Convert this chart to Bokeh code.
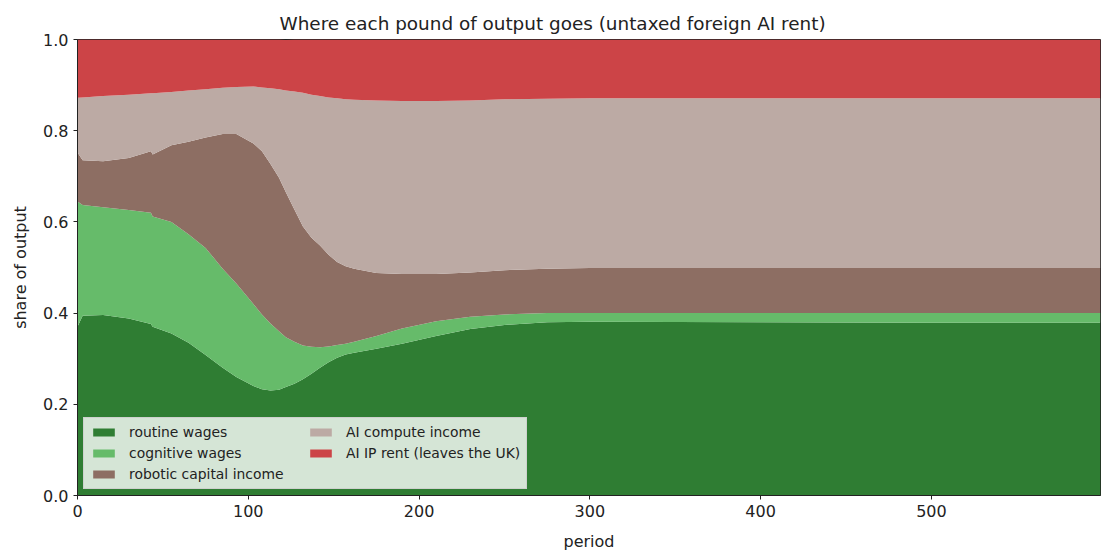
from bokeh.plotting import figure
from bokeh.models import ColumnDataSource, Legend, LegendItem, FixedTicker, NumeralTickFormatter, Range1d
from bokeh.embed import file_html
from bokeh.resources import INLINE

period = [0, 3, 15, 30, 43, 44, 55, 65, 75, 85, 93, 103, 108, 113, 118, 122, 127, 132,
          137, 142, 147, 152, 157, 162, 175, 190, 210, 230, 250, 275, 300, 400, 500, 599]

routine_wages = [0.370, 0.394, 0.396, 0.388, 0.376, 0.370, 0.355, 0.335, 0.308, 0.280,
                 0.260, 0.240, 0.233, 0.230, 0.232, 0.238, 0.245, 0.255, 0.267, 0.280,
                 0.292, 0.302, 0.309, 0.313, 0.322, 0.333, 0.350, 0.365, 0.374, 0.380,
                 0.381, 0.380, 0.379, 0.379]
cognitive_wages = [0.275, 0.243, 0.236, 0.238, 0.244, 0.242, 0.245, 0.238, 0.235, 0.217,
                   0.205, 0.180, 0.164, 0.147, 0.128, 0.109, 0.092, 0.074, 0.059, 0.045,
                   0.035, 0.028, 0.024, 0.024, 0.028, 0.033, 0.032, 0.027, 0.023, 0.020,
                   0.019, 0.020, 0.021, 0.021]
robotic_capital = [0.107, 0.098, 0.101, 0.114, 0.135, 0.136, 0.168, 0.203, 0.242, 0.296,
                   0.328, 0.352, 0.358, 0.350, 0.337, 0.318, 0.290, 0.261, 0.239, 0.223,
                   0.201, 0.182, 0.170, 0.160, 0.138, 0.120, 0.104, 0.097, 0.097, 0.097,
                   0.099, 0.099, 0.099, 0.099]
ai_compute = [0.120, 0.138, 0.143, 0.139, 0.127, 0.134, 0.117, 0.112, 0.106, 0.101,
              0.103, 0.125, 0.140, 0.166, 0.194, 0.223, 0.259, 0.293, 0.314, 0.328,
              0.345, 0.359, 0.366, 0.371, 0.378, 0.379, 0.379, 0.377, 0.375, 0.373,
              0.372, 0.372, 0.372, 0.372]
ai_ip_rent = [0.128, 0.127, 0.124, 0.121, 0.118, 0.118, 0.115, 0.112, 0.109, 0.106,
              0.104, 0.103, 0.105, 0.107, 0.109, 0.111, 0.114, 0.117, 0.121, 0.124,
              0.127, 0.129, 0.131, 0.132, 0.134, 0.135, 0.135, 0.134, 0.131, 0.130,
              0.129, 0.129, 0.129, 0.129]

labels = ["routine wages", "cognitive wages", "robotic capital income",
          "AI compute income", "AI IP rent (leaves the UK)"]
colors = ["#2f7d33", "#66bb6a", "#8d6e63", "#bcaaa4", "#cc4447"]
keys = ["routine", "cognitive", "robotic", "compute", "iprent"]

source = ColumnDataSource(dict(period=period, routine=routine_wages, cognitive=cognitive_wages,
                               robotic=robotic_capital, compute=ai_compute, iprent=ai_ip_rent))

FONT = "DejaVu Sans"
p = figure(width=1103, height=554, output_backend="svg", toolbar_location=None,
           x_range=Range1d(0, 599), y_range=Range1d(0, 1),
           title="Where each pound of output goes (untaxed foreign AI rent)",
           min_border_left=77, min_border_right=3, min_border_top=39, min_border_bottom=59)

rs = p.varea_stack(stackers=keys, x="period", color=colors, source=source)

p.title.align = "left"
p.title.offset = 202
p.title.text_font = FONT
p.title.text_font_size = "18.4px"
p.title.text_font_style = "normal"
p.title.text_color = "#222222"
p.title.standoff = 12

p.xgrid.visible = False
p.ygrid.visible = False
p.outline_line_color = "#222222"
p.outline_line_width = 1

for ax in (p.xaxis[0], p.yaxis[0]):
    ax.major_label_text_font = FONT
    ax.major_label_text_font_size = "16px"
    ax.major_label_text_color = "#222222"
    ax.axis_label_text_font = FONT
    ax.axis_label_text_font_size = "16px"
    ax.axis_label_text_font_style = "normal"
    ax.axis_label_text_color = "#222222"
    ax.minor_tick_line_color = None
    ax.major_tick_out = 4
    ax.major_tick_in = 0
    ax.axis_line_color = "#222222"
    ax.major_tick_line_color = "#222222"

p.xaxis.axis_label = "period"
p.yaxis.axis_label = "share of output"
p.xaxis.ticker = FixedTicker(ticks=[0, 100, 200, 300, 400, 500])
p.yaxis.ticker = FixedTicker(ticks=[0, 0.2, 0.4, 0.6, 0.8, 1.0])
p.yaxis.formatter = NumeralTickFormatter(format="0.0")
p.xaxis.axis_label_standoff = 12
p.yaxis.axis_label_standoff = 10

items = [LegendItem(label=lab, renderers=[r]) for lab, r in zip(labels, rs)]
legend = Legend(items=items, location="bottom_left", ncols=2,
                label_text_font=FONT, label_text_font_size="13.9px", label_text_color="#222222",
                glyph_width=27, glyph_height=10, label_standoff=12, label_height=16,
                spacing=5, padding=6, margin=6, label_width=173,
                background_fill_color="white", background_fill_alpha=0.8,
                border_line_color="#cccccc", border_line_alpha=0.8)
p.add_layout(legend)

open("out.html", "w").write(file_html(p, INLINE))
